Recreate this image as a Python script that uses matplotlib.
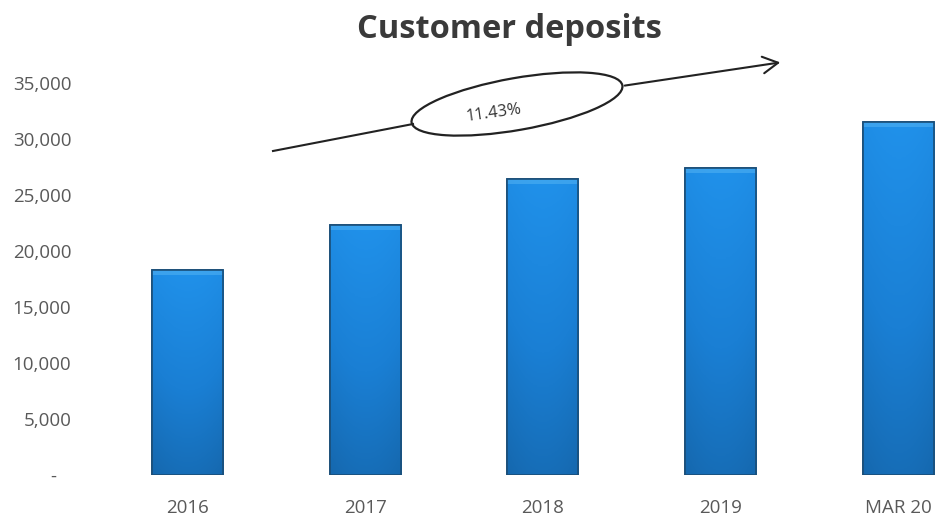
import numpy as np
import matplotlib
matplotlib.use("Agg")
import matplotlib.pyplot as plt
from matplotlib.patches import Ellipse, FancyArrowPatch
from matplotlib.colors import LinearSegmentedColormap

plt.rcParams['font.family'] = ['Open Sans', 'DejaVu Sans']

# customer deposits per period
categories = ['2016', '2017', '2018', '2019', 'MAR 20']
deposits = [18300, 22350, 26450, 27400, 31500]
growth_label = '11.43%'
yticks = [0, 5000, 10000, 15000, 20000, 25000, 30000, 35000]

W, H = 939, 519
fig = plt.figure(figsize=(W / 100, H / 100), dpi=100)

# plot area in pixels: left 99, right 939, zero line at 475, 35,000 at 83
ax = fig.add_axes([99 / W, (H - 475) / H, (939 - 99) / W, (475 - 83) / H])
x = np.arange(len(categories))
bars = ax.bar(x, deposits, width=0.4, color='#1b82d8', edgecolor='#1a4e78',
              linewidth=1.2, zorder=2)

# vertical + horizontal shading inside each bar
shade = LinearSegmentedColormap.from_list('shade', ['#1566ab', '#1a7fd4', '#2091ea'])
rows = np.linspace(0, 1, 200)[:, None]
cols = np.linspace(-1, 1, 60)[None, :]
grad = rows * 0.85 + 0.15 - 0.12 * cols ** 2
for b in bars:
    x0, y0 = b.get_x(), b.get_y()
    w, h = b.get_width(), b.get_height()
    im = ax.imshow(grad, cmap=shade, vmin=0, vmax=1, origin='lower',
                   extent=[x0, x0 + w, y0, y0 + h], aspect='auto', zorder=2.5)
    im.set_clip_path(b)
    # lighter strip along the top edge
    ax.fill_between([x0, x0 + w], y0 + h - 450, y0 + h, color='#4fb0f2',
                    alpha=0.6, zorder=2.6, linewidth=0)
    ax.bar(x0 + w / 2, h, width=w, bottom=y0, fill=False,
           edgecolor='#1a4e78', linewidth=1.2, zorder=2.7)

ax.set_xlim(-0.5, 4.23)
ax.set_ylim(0, 35000)
ax.set_yticks(yticks)
ax.set_yticklabels(['-   ' if v == 0 else f'{v:,}' for v in yticks])
ax.set_xticks(x)
ax.set_xticklabels(categories)
ax.tick_params(axis='both', length=0, labelsize=13.5, labelcolor='#595959')
ax.tick_params(axis='y', pad=20)
ax.tick_params(axis='x', pad=17)
for s in ax.spines.values():
    s.set_visible(False)

# overlay in pixel coordinates for title and growth arrow
ov = fig.add_axes([0, 0, 1, 1], facecolor='none')
ov.set_xlim(0, W)
ov.set_ylim(H, 0)
ov.axis('off')

ov.text(509, 30, 'Customer deposits', ha='center', va='center',
        fontsize=23.5, fontweight='bold', color='#3a3a3a')

ov.plot([273, 413], [151, 124], color='#222222', lw=1.5)
ov.add_patch(FancyArrowPatch((622, 86), (783, 62), arrowstyle='->,head_length=11,head_width=6',
                             mutation_scale=1, color='#222222', lw=1.5))
ov.add_patch(Ellipse((517, 104), 214, 52, angle=-10, fill=False,
                     edgecolor='#222222', lw=1.6))
ov.text(494, 113, growth_label, ha='center', va='center', rotation=8,
        fontsize=12, color='#333333')

fig.savefig('out.png', dpi=100)
